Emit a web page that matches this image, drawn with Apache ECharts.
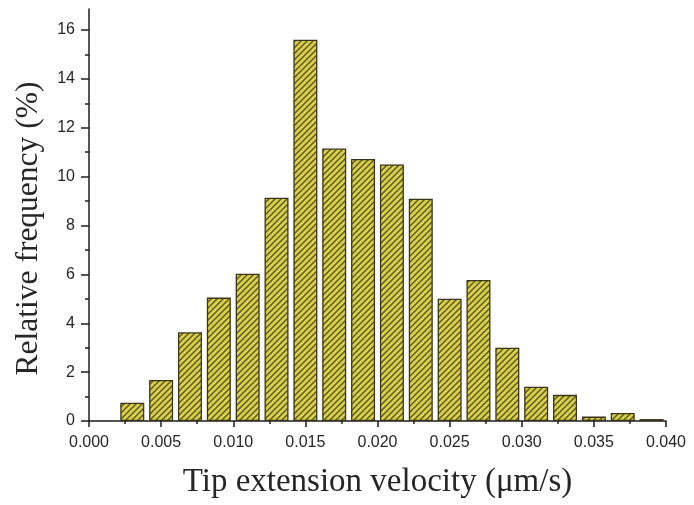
<!DOCTYPE html>
<html>
<head>
<meta charset="utf-8">
<script src="https://cdn.jsdelivr.net/npm/echarts@6/dist/echarts.min.js"></script>
<style>
  html, body { margin: 0; padding: 0; background: #ffffff; }
  #chart { width: 694px; height: 505px; }
</style>
</head>
<body>
<div id="chart"></div>
<script>
// Histogram bins: centre of each velocity bin (µm/s) and its relative frequency (%)
const binCenters = [0.003, 0.005, 0.007, 0.009, 0.011, 0.013, 0.015, 0.017, 0.019, 0.021,
                    0.023, 0.025, 0.027, 0.029, 0.031, 0.033, 0.035, 0.037, 0.039];
const relFrequency = [0.75, 1.68, 3.63, 5.05, 6.03, 9.14, 15.6, 11.15, 10.72, 10.5,
                      9.1, 5.0, 5.77, 3.0, 1.4, 1.07, 0.18, 0.33, 0.08];

const yMajorTicks = [0, 2, 4, 6, 8, 10, 12, 14, 16];
const yMinorTicks = [1, 3, 5, 7, 9, 11, 13, 15];

const xAxisTitle = 'Tip extension velocity (\u03bcm/s)';
const yAxisTitle = 'Relative frequency (%)';

// Diagonal hatch fill for the bars
function hatchPattern() {
  const s = 6;
  const c = document.createElement('canvas');
  c.width = s; c.height = s;
  const g = c.getContext('2d');
  g.fillStyle = '#d9d14a';
  g.fillRect(0, 0, s, s);
  g.strokeStyle = '#615a1e';
  g.lineWidth = 1.5;
  g.beginPath();
  g.moveTo(-1, s + 1); g.lineTo(s + 1, -1);
  g.moveTo(-1, 1); g.lineTo(1, -1);
  g.moveTo(s - 1, s + 1); g.lineTo(s + 1, s - 1);
  g.stroke();
  return c;
}

const textColor = '#262626';
const lineColor = '#1e1e1e';

const chart = echarts.init(document.getElementById('chart'), null, { renderer: 'canvas' });

chart.setOption({
  animation: false,
  backgroundColor: '#ffffff',
  grid: { left: 89, right: 28, top: 9, bottom: 84, containLabel: false },
  xAxis: {
    type: 'value',
    min: 0,
    max: 0.04,
    interval: 0.005,
    name: xAxisTitle,
    nameLocation: 'middle',
    nameGap: 45,
    nameTextStyle: { fontFamily: 'Liberation Serif', fontSize: 33, color: textColor },
    axisLine: { show: true, onZero: false, lineStyle: { color: lineColor, width: 1.5 } },
    axisTick: { show: true, length: 6, inside: false, lineStyle: { color: lineColor, width: 1.5 } },
    minorTick: { show: true, splitNumber: 2, length: 3, lineStyle: { color: lineColor, width: 1.5 } },
    axisLabel: {
      margin: 14,
      fontFamily: 'Liberation Sans',
      fontSize: 16,
      color: textColor,
      formatter: v => v.toFixed(3)
    },
    splitLine: { show: false }
  },
  yAxis: [
    {
      type: 'value',
      position: 'left',
      min: 0,
      max: 16.86,
      name: yAxisTitle,
      nameLocation: 'middle',
      nameGap: 44,
      nameRotate: 90,
      nameTextStyle: {
        fontFamily: 'Liberation Serif', fontSize: 31.5, color: textColor,
        padding: [0, 27, 0, 0]
      },
      axisLine: { show: true, onZero: false, lineStyle: { color: lineColor, width: 1.5 } },
      axisTick: { show: true, length: 8, customValues: yMajorTicks, lineStyle: { color: lineColor, width: 1.5 } },
      axisLabel: {
        margin: 14,
        fontFamily: 'Liberation Sans',
        fontSize: 16,
        color: textColor,
        customValues: yMajorTicks
      },
      splitLine: { show: false }
    },
    {
      type: 'value',
      position: 'left',
      min: 0,
      max: 16.86,
      axisLine: { show: false },
      axisTick: { show: true, length: 4, customValues: yMinorTicks, lineStyle: { color: lineColor, width: 1.5 } },
      axisLabel: { show: false },
      splitLine: { show: false }
    }
  ],
  series: [
    {
      type: 'bar',
      xAxisIndex: 0,
      yAxisIndex: 0,
      barWidth: 24,
      data: binCenters.map((x, i) => [x, relFrequency[i]]),
      itemStyle: {
        color: { image: hatchPattern(), repeat: 'repeat' },
        borderColor: '#3a3518',
        borderWidth: 1.3
      },
      emphasis: { disabled: true }
    }
  ]
});
</script>
</body>
</html>
